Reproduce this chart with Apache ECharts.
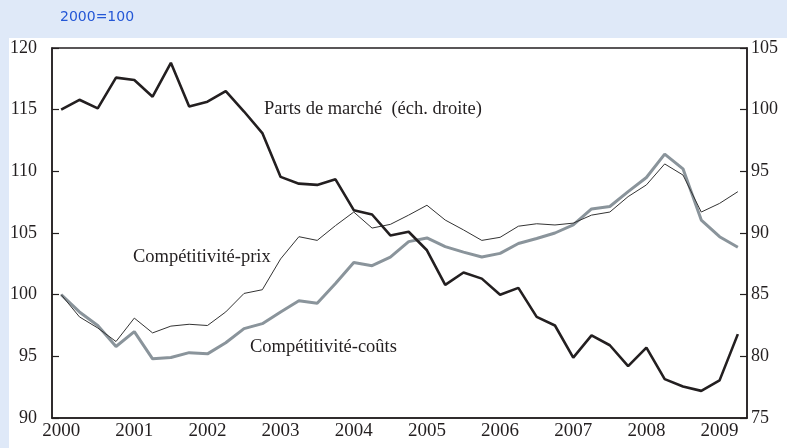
<!DOCTYPE html>
<html>
<head>
<meta charset="utf-8">
<script src="https://cdn.jsdelivr.net/npm/echarts@6/dist/echarts.min.js"></script>
<style>
  html, body { margin: 0; padding: 0; background: #dfe9f8; }
  #chart { width: 787px; height: 448px; }
</style>
</head>
<body>
<div id="chart"></div>
<script>
// quarterly, 2000 T1 .. 2009 T2
const quarters = [
  '2000 T1', '2000 T2', '2000 T3', '2000 T4',
  '2001 T1', '2001 T2', '2001 T3', '2001 T4',
  '2002 T1', '2002 T2', '2002 T3', '2002 T4',
  '2003 T1', '2003 T2', '2003 T3', '2003 T4',
  '2004 T1', '2004 T2', '2004 T3', '2004 T4',
  '2005 T1', '2005 T2', '2005 T3', '2005 T4',
  '2006 T1', '2006 T2', '2006 T3', '2006 T4',
  '2007 T1', '2007 T2', '2007 T3', '2007 T4',
  '2008 T1', '2008 T2', '2008 T3', '2008 T4',
  '2009 T1', '2009 T2'
]

// right scale
const partsMarche = [
  100.0, 100.8, 100.1, 102.6, 102.4, 101.05, 103.8, 100.25, 100.65, 101.5,
  99.85, 98.1, 94.55, 94.0, 93.9, 94.35, 91.85, 91.5, 89.8, 90.1,
  88.6, 85.8, 86.8, 86.3, 85.0, 85.55, 83.2, 82.5, 79.9, 81.7,
  80.9, 79.2, 80.7, 78.15, 77.55, 77.2, 78.05, 81.8
]

// left scale
const compPrix = [
  100.0, 98.2, 97.3, 96.2, 98.1, 96.9, 97.45, 97.6, 97.5, 98.6,
  100.1, 100.4, 102.9, 104.7, 104.4, 105.6, 106.7, 105.4, 105.7, 106.45,
  107.25, 106.05, 105.25, 104.4, 104.65, 105.55, 105.75, 105.65, 105.8, 106.45,
  106.7, 107.95, 108.9, 110.6, 109.7, 106.7, 107.4, 108.35
]

const compCouts = [
  100.0, 98.6, 97.5, 95.8, 97.0, 94.8, 94.9, 95.3, 95.2, 96.1,
  97.25, 97.65, 98.6, 99.5, 99.3, 100.9, 102.6, 102.35, 103.05, 104.3,
  104.6, 103.9, 103.45, 103.05, 103.35, 104.15, 104.55, 105.0, 105.65, 106.95,
  107.15, 108.35, 109.5, 111.4, 110.2, 106.05, 104.7, 103.85
]

const leftTicks = { min: 90, max: 120, interval: 5 }
const rightTicks = { min: 75, max: 105, interval: 5 }

const serif = '"Liberation Serif", "DejaVu Serif", serif'
const ink = '#231f20'

const chart = echarts.init(document.getElementById('chart'), null, { renderer: 'canvas' })

const option = {
  animation: false,
  backgroundColor: '#dfe9f8',
  graphic: [
    {
      type: 'rect',
      left: 9, top: 38, z: -10,
      shape: { width: 778, height: 410 },
      style: { fill: '#ffffff' }
    },
    {
      type: 'text',
      left: 60, top: 10,
      style: { text: '2000=100', fill: '#2457d6', font: '14px "DejaVu Sans", sans-serif' }
    },
    {
      type: 'text',
      left: 264, top: 100,
      style: { text: 'Parts de marché  (éch. droite)', fill: ink, font: '18.5px ' + serif }
    },
    {
      type: 'text',
      left: 133, top: 248,
      style: { text: 'Compétitivité-prix', fill: ink, font: '18.5px ' + serif }
    },
    {
      type: 'text',
      left: 250, top: 338,
      style: { text: 'Compétitivité-coûts', fill: ink, font: '18.5px ' + serif }
    }
  ],
  grid: {
    left: 52, right: 40, top: 48, bottom: 30,
    show: true,
    borderColor: ink,
    borderWidth: 1.5,
    backgroundColor: 'transparent'
  },
  xAxis: {
    type: 'category',
    data: quarters,
    boundaryGap: true,
    axisLine: { lineStyle: { color: ink, width: 1.5 } },
    axisTick: { inside: true, length: 6, interval: 3, lineStyle: { color: ink, width: 1.2 } },
    axisLabel: {
      interval: 3,
      margin: 4,
      color: ink,
      fontFamily: serif,
      fontSize: 19,
      formatter: v => v.slice(0, 4)
    },
    splitLine: { show: false }
  },
  yAxis: [
    {
      type: 'value',
      position: 'left',
      min: leftTicks.min, max: leftTicks.max, interval: leftTicks.interval,
      axisLine: { show: true, lineStyle: { color: ink, width: 1.5 } },
      axisTick: { show: true, inside: true, length: 7, lineStyle: { color: ink, width: 1.2 } },
      axisLabel: { margin: 15, color: ink, fontFamily: serif, fontSize: 18 },
      splitLine: { show: false }
    },
    {
      type: 'value',
      position: 'right',
      min: rightTicks.min, max: rightTicks.max, interval: rightTicks.interval,
      axisLine: { show: true, lineStyle: { color: ink, width: 1.5 } },
      axisTick: { show: true, inside: true, length: 7, lineStyle: { color: ink, width: 1.2 } },
      axisLabel: { margin: 4, color: ink, fontFamily: serif, fontSize: 18 },
      splitLine: { show: false }
    }
  ],
  series: [
    {
      name: 'Compétitivité-coûts',
      type: 'line',
      yAxisIndex: 0,
      data: compCouts,
      symbol: 'none',
      lineStyle: { color: '#8a949b', width: 3 },
      z: 2
    },
    {
      name: 'Compétitivité-prix',
      type: 'line',
      yAxisIndex: 0,
      data: compPrix,
      symbol: 'none',
      lineStyle: { color: '#333333', width: 1 },
      z: 3
    },
    {
      name: 'Parts de marché',
      type: 'line',
      yAxisIndex: 1,
      data: partsMarche,
      symbol: 'none',
      lineStyle: { color: ink, width: 2.6 },
      z: 4
    }
  ]
}

chart.setOption(option)
</script>
</body>
</html>
